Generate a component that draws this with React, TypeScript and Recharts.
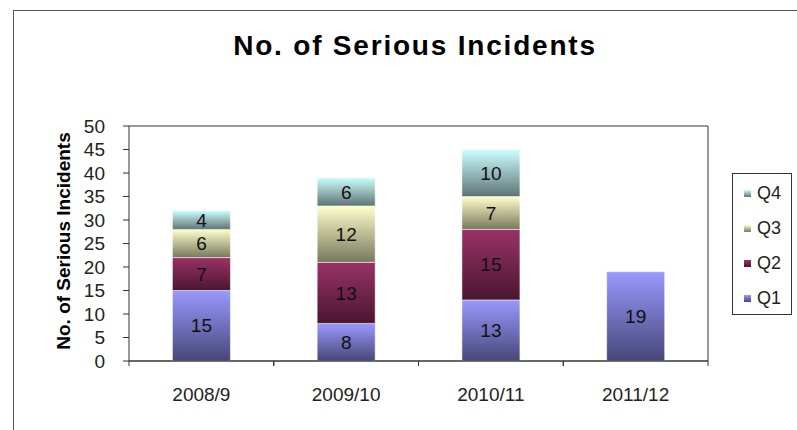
import { BarChart, Bar, XAxis, YAxis, CartesianGrid, LabelList } from 'recharts';

const YEARS = ['2008/9', '2009/10', '2010/11', '2011/12'];
const Q1 = [15, 8, 13, 19];
const Q2 = [7, 13, 15, null];
const Q3 = [6, 12, 7, null];
const Q4 = [4, 6, 10, null];
const Y_TICKS = [0, 5, 10, 15, 20, 25, 30, 35, 40, 45, 50];

const SERIES = [
  { key: 'Q1', top: '#9999FF', bottom: '#474778' },
  { key: 'Q2', top: '#993366', bottom: '#4a1630' },
  { key: 'Q3', top: '#FFFFCC', bottom: '#77775d' },
  { key: 'Q4', top: '#CCFFFF', bottom: '#5e7474' }
];

const data = YEARS.map((year, i) => ({ year, Q1: Q1[i], Q2: Q2[i], Q3: Q3[i], Q4: Q4[i] }));

const FONT = '"Liberation Sans", Arial, sans-serif';

function XTick(props: any) {
  const { x, y, payload } = props;
  const off = payload.offset ?? 0;
  return (
    <g>
      <line x1={x - off} x2={x - off} y1={y} y2={y + 5} stroke="#333" />
      <line x1={x + off} x2={x + off} y1={y} y2={y + 5} stroke="#333" />
      <text x={x} y={y + 40} textAnchor="middle" fontSize={19} fill="#222" fontFamily={FONT}>
        {payload.value}
      </text>
    </g>
  );
}

function LegendBox() {
  return (
    <div
      style={{
        position: 'absolute',
        left: 732,
        top: 173,
        width: 58,
        height: 140,
        border: '1px solid #333',
        background: '#fff',
        fontFamily: FONT,
        fontSize: 18,
        color: '#222'
      }}
    >
      {[...SERIES].reverse().map((s) => (
        <div key={s.key} style={{ display: 'flex', alignItems: 'center', height: 35, paddingLeft: 11, marginTop: s.key === 'Q4' ? 2 : 0 }}>
          <span
            style={{
              width: 7,
              height: 7,
              marginRight: 6,
              background: `linear-gradient(${s.top}, ${s.bottom})`
            }}
          />
          {s.key}
        </div>
      ))}
    </div>
  );
}

const hideEmpty = (v: any) => (v ? v : '');

export default function App() {
  return (
    <div style={{ position: 'absolute', left: 0, top: 0, width: 797, height: 430, background: '#fff' }}>
      <div
        style={{
          position: 'absolute',
          left: 13,
          top: 10,
          right: 0,
          bottom: 0,
          borderLeft: '1.5px solid #555',
          borderTop: '1.5px solid #555'
        }}
      />
      <div
        style={{
          position: 'absolute',
          left: 0,
          width: 830,
          top: 30,
          textAlign: 'center',
          fontFamily: FONT,
          fontWeight: 'bold',
          fontSize: 28,
          letterSpacing: 1.8,
          color: '#000'
        }}
      >
        No. of Serious Incidents
      </div>
      <div
        style={{
          position: 'absolute',
          left: 64,
          top: 241,
          transform: 'translate(-50%, -50%) rotate(-90deg)',
          whiteSpace: 'nowrap',
          fontFamily: FONT,
          fontWeight: 'bold',
          fontSize: 19,
          color: '#000'
        }}
      >
        No. of Serious Incidents
      </div>
      <div style={{ position: 'absolute', left: 0, top: 0 }}>
        <BarChart
          width={797}
          height={430}
          data={data}
          margin={{ top: 126, right: 29, bottom: 39, left: 69 }}
          barCategoryGap="30%"
        >
          <defs>
            {SERIES.map((s) => (
              <linearGradient key={s.key} id={`grad-${s.key}`} x1="0" y1="0" x2="0" y2="1">
                <stop offset="0%" stopColor={s.top} />
                <stop offset="100%" stopColor={s.bottom} />
              </linearGradient>
            ))}
          </defs>
          <CartesianGrid vertical={false} stroke="#333" />
          <XAxis
            dataKey="year"
            stroke="#333"
            tickLine={false}
            tickSize={0}
            tickMargin={0}
            height={30}
            tick={<XTick />}
          />
          <YAxis
            yAxisId="left"
            domain={[0, 50]}
            ticks={Y_TICKS}
            interval={0}
            width={60}
            stroke="#333"
            tickSize={6}
            tickMargin={18}
            tick={{ fontSize: 19, fill: '#222', fontFamily: FONT }}
          />
          <YAxis yAxisId="right" orientation="right" width={60} tick={false} tickLine={false} stroke="#333" domain={[0, 50]} />
          {SERIES.map((s) => (
            <Bar
              key={s.key}
              yAxisId="left"
              dataKey={s.key}
              stackId="a"
              fill={`url(#grad-${s.key})`}
              stroke="#ffffff"
              strokeOpacity={0.5}
              strokeWidth={1}
              isAnimationActive={false}
            >
              <LabelList
                dataKey={s.key}
                position="center"
                formatter={hideEmpty}
                style={{ fontSize: 19, fill: '#111', fontFamily: FONT }}
              />
            </Bar>
          ))}
        </BarChart>
      </div>
      <LegendBox />
    </div>
  );
}
